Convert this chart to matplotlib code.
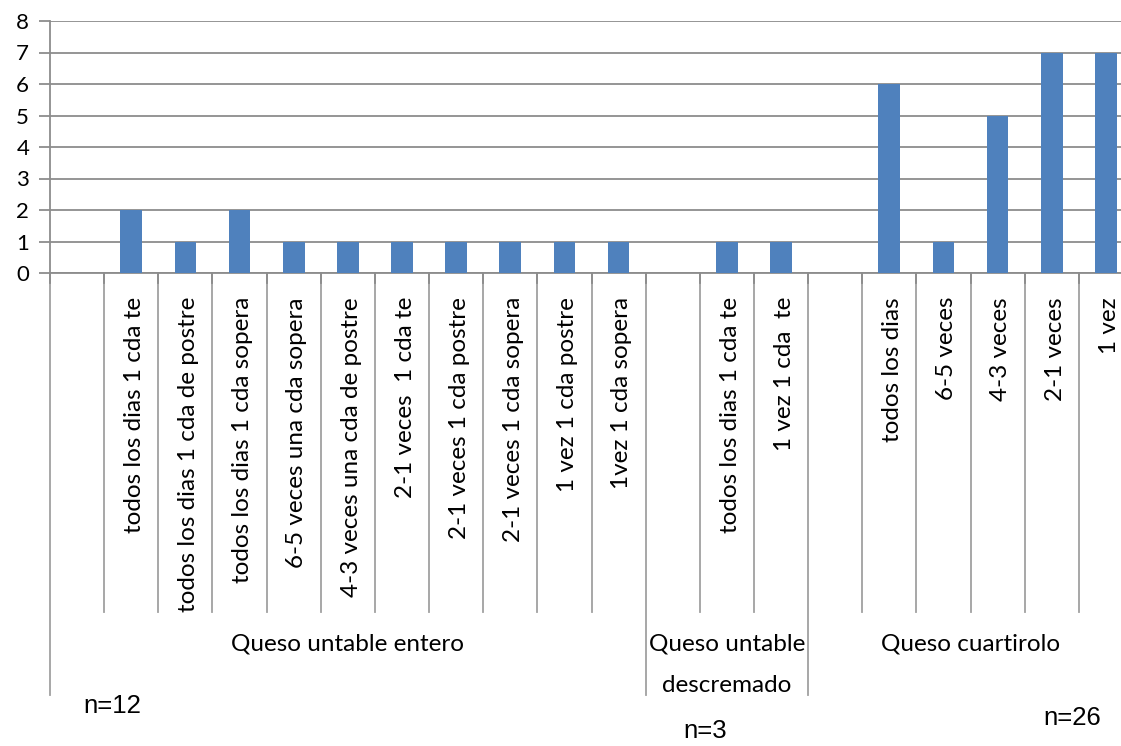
import numpy as np
import matplotlib
matplotlib.use("Agg")
import matplotlib.pyplot as plt
import matplotlib.transforms as mtransforms

# ---- data ----
groups = ["Queso untable entero", "Queso untable\ndescremado", "Queso cuartirolo"]
labels_entero = ["", "todos los dias 1 cda te", "todos los dias 1 cda de postre",
                 "todos los dias 1 cda sopera", "6-5 veces una cda sopera",
                 "4-3 veces una cda de postre", "2-1 veces  1 cda te",
                 "2-1 veces 1 cda postre", "2-1 veces 1 cda sopera",
                 "1 vez 1 cda postre", "1vez 1 cda sopera"]
values_entero = [np.nan, 2, 1, 2, 1, 1, 1, 1, 1, 1, 1]
labels_descremado = ["", "todos los dias 1 cda te", "1 vez 1 cda  te"]
values_descremado = [np.nan, 1, 1]
labels_cuartirolo = ["", "todos los dias", "6-5 veces", "4-3 veces", "2-1 veces", "1 vez"]
values_cuartirolo = [np.nan, 6, 1, 5, 7, 7]
n_labels = ["n=12", "n=3", "n=26"]
yticks = [0, 1, 2, 3, 4, 5, 6, 7, 8]

group_labels = [labels_entero, labels_descremado, labels_cuartirolo]
group_values = [values_entero, values_descremado, values_cuartirolo]

W, H = 1121, 746
fig = plt.figure(figsize=(W / 100, H / 100), dpi=100)
ax_left, ax_right, ax_top, ax_bot = 50, 1133, 21, 273
ax = fig.add_axes([ax_left / W, 1 - ax_bot / H, (ax_right - ax_left) / W, (ax_bot - ax_top) / H])

all_labels = [l for g in group_labels for l in g]
all_values = [v for g in group_values for v in g]
x = np.arange(len(all_labels))

bar_color = "#4F81BD"
grid_color = "#8C8C8C"
ax.bar(x, all_values, width=0.4, color=bar_color, zorder=3)

ax.set_xlim(-0.5, len(all_labels) - 0.5)
ax.set_ylim(0, 8)
ax.set_yticks(yticks)
ax.set_yticklabels([str(t) for t in yticks], fontfamily="Lato", fontsize=16)
ax.tick_params(axis="y", length=8, color=grid_color, width=1.3, pad=7)
ax.tick_params(axis="x", length=0, labelbottom=False)
ax.grid(axis="y", color=grid_color, linewidth=1.3, zorder=0)
for s in ["top", "right"]:
    ax.spines[s].set_visible(False)
ax.spines["left"].set_color(grid_color)
ax.spines["left"].set_linewidth(1.3)
ax.spines["bottom"].set_color(grid_color)
ax.spines["bottom"].set_linewidth(1.3)

trans = mtransforms.blended_transform_factory(ax.transData, fig.transFigure)
def fy(py):
    return 1 - py / H

# boundaries
group_starts = np.cumsum([0] + [len(g) for g in group_labels])
for k in range(len(all_labels) + 1):
    xb = k - 0.5
    y_end = 695 if k in group_starts else 612
    ax.plot([xb, xb], [fy(ax_bot), fy(y_end)], transform=trans, color="#A0A0A0",
            linewidth=1.3, clip_on=False, zorder=1)
    ax.plot([xb, xb], [fy(ax_bot), fy(ax_bot + 10)], transform=trans, color=grid_color,
            linewidth=1.3, clip_on=False, zorder=2)

# category labels
for xi, lab in zip(x, all_labels):
    if lab:
        ax.text(xi + 0.06, fy(297), lab, transform=trans, rotation=90, ha="center", va="top",
                fontfamily="Lato", fontsize=17.5)

# group labels
for gi, g in enumerate(groups):
    c = (group_starts[gi] + group_starts[gi + 1] - 1) / 2
    ax.text(c, fy(634), g, transform=trans, ha="center", va="top", fontfamily="Lato",
            fontsize=17.5, linespacing=2.15)

# n labels
fig.text(83 / W, fy(706), n_labels[0], ha="left", va="center", fontfamily="Liberation Sans", fontsize=18.5)
fig.text(683 / W, fy(731), n_labels[1], ha="left", va="center", fontfamily="Liberation Sans", fontsize=18.5)
fig.text(1043 / W, fy(718), n_labels[2], ha="left", va="center", fontfamily="Liberation Sans", fontsize=18.5)

fig.savefig("out.png", dpi=100)
